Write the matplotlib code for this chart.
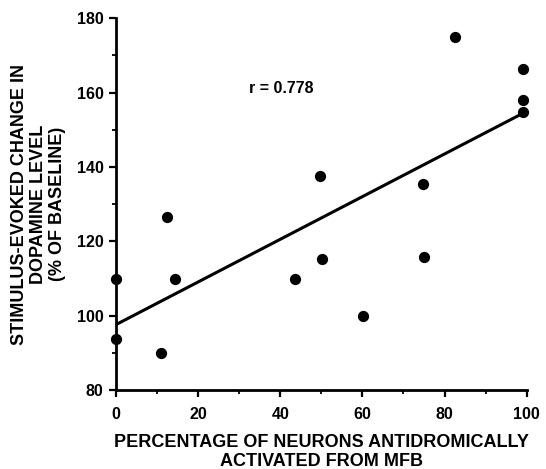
import matplotlib
matplotlib.use('Agg')
import matplotlib.pyplot as plt
from matplotlib.ticker import MultipleLocator
import numpy as np

# percent antidromically activated vs stimulus-evoked dopamine change
pct_activated = [0, 0, 11.0, 12.3, 14.4, 43.6, 49.7, 50.2, 60.2, 74.8, 75.1, 82.5, 99.0, 99.0, 99.0]
dopamine_pct = [109.9, 93.6, 90.0, 126.6, 109.9, 109.8, 137.6, 115.2, 100.0, 135.4, 115.7, 174.9, 166.4, 158.0, 154.9]

# regression line as drawn in the figure
fit_x = [0, 99]
fit_y = [97.6, 154.4]
r_label = 'r = 0.778'

plt.rcParams['font.family'] = ['Liberation Sans', 'DejaVu Sans']
plt.rcParams['font.weight'] = 'bold'

fig = plt.figure(figsize=(5.46, 4.69), dpi=100)
ax = fig.add_axes([0.2125, 0.1684, 0.7521, 0.7926])

ax.scatter(pct_activated, dopamine_pct, s=50, color='black', zorder=3, clip_on=False)
ax.plot(fit_x, fit_y, color='black', lw=2.2, solid_capstyle='butt')
ax.text(32.5, 161.2, r_label, fontsize=11.5, fontweight='bold', va='center')

ax.set_xlim(0, 100)
ax.set_ylim(80, 180)
ax.xaxis.set_major_locator(MultipleLocator(20))
ax.xaxis.set_minor_locator(MultipleLocator(10))
ax.yaxis.set_major_locator(MultipleLocator(20))
ax.yaxis.set_minor_locator(MultipleLocator(10))
ax.spines['top'].set_visible(False)
ax.spines['right'].set_visible(False)
for s in ('left', 'bottom'):
    ax.spines[s].set_linewidth(2)
ax.tick_params(which='major', length=5, width=1.6, labelsize=11.5, pad=4)
ax.tick_params(axis='x', which='major', pad=7)
ax.tick_params(which='minor', length=3, width=1.3)
for lab in ax.get_xticklabels() + ax.get_yticklabels():
    lab.set_fontweight('bold')

ax.set_xlabel('PERCENTAGE OF NEURONS ANTIDROMICALLY\nACTIVATED FROM MFB',
              fontsize=13, fontweight='bold', linespacing=1.13, labelpad=9)
ax.set_ylabel('STIMULUS-EVOKED CHANGE IN\nDOPAMINE LEVEL\n(% OF BASELINE)',
              fontsize=13, fontweight='bold', linespacing=1.13, labelpad=8)

fig.savefig('out.png', dpi=100)
